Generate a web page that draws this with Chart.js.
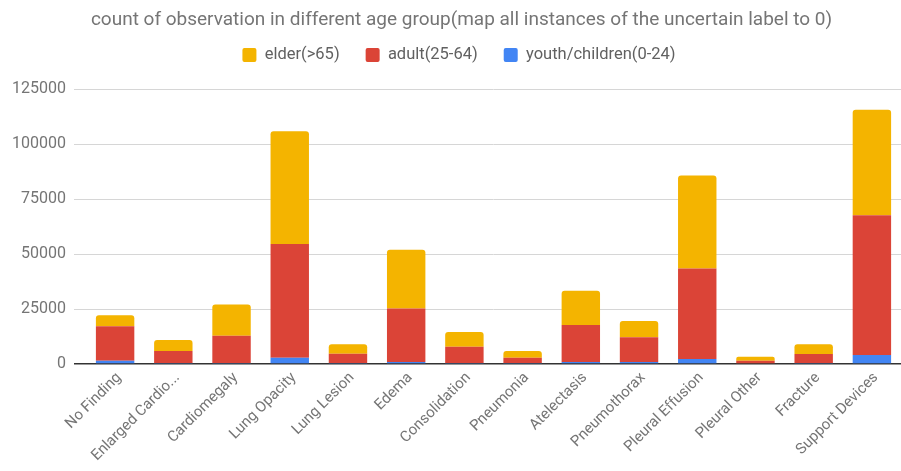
<!DOCTYPE html>
<html>
<head>
<meta charset="utf-8">
<script src="https://cdn.jsdelivr.net/npm/chart.js@4.4.1/dist/chart.umd.min.js"></script>
<style>
  html, body { margin: 0; padding: 0; background: #ffffff; }
  #wrap { width: 901px; height: 471px; }
</style>
</head>
<body>
<div id="wrap"><canvas id="chart" width="901" height="471"></canvas></div>
<script>
// Findings on the x axis
const categories = [
  'No Finding', 'Enlarged Cardio...', 'Cardiomegaly', 'Lung Opacity', 'Lung Lesion',
  'Edema', 'Consolidation', 'Pneumonia', 'Atelectasis', 'Pneumothorax',
  'Pleural Effusion', 'Pleural Other', 'Fracture', 'Support Devices'
];

// Observation counts per age group (stacked bottom to top: youth, adult, elder)
const youthChildren = [1500, 400, 400, 2850, 400, 900, 500, 400, 900, 900, 2300, 300, 400, 4100];
const adult = [15700, 5500, 12400, 51750, 4300, 24300, 7300, 2450, 16900, 11300, 41100, 1200, 4200, 63600];
const elder = [5000, 5000, 14300, 51300, 4300, 26800, 6800, 3050, 15500, 7400, 42400, 1800, 4400, 48000];

// Value axis ticks
const yTicks = [0, 25000, 50000, 75000, 100000, 125000];

const seriesNames = ['youth/children(0-24)', 'adult(25-64)', 'elder(>65)'];
const seriesColors = ['#4285F4', '#DB4437', '#F4B400'];

const FONT = 'Roboto, "Noto Sans", Arial, sans-serif';
const GREY = '#757575';

// Extra room under the legend row, and title/legend centred over the plot area
const headerLayout = {
  id: 'headerLayout',
  beforeLayout(chart) {
    const legend = chart.legend;
    if (!legend || legend._gapWrapped) return;
    const fit = legend.fit;
    legend.fit = function () {
      fit.call(this);
      this.height += 16;
    };
    legend._gapWrapped = true;
  },
  afterLayout(chart) {
    if (chart.titleBlock) chart.titleBlock.left += 22;
    if (chart.legend) chart.legend.left += 17;
  }
};

new Chart(document.getElementById('chart'), {
  type: 'bar',
  data: {
    labels: categories,
    datasets: [
      { label: seriesNames[0], data: youthChildren, backgroundColor: seriesColors[0], borderRadius: 0 },
      { label: seriesNames[1], data: adult, backgroundColor: seriesColors[1], borderRadius: 0 },
      { label: seriesNames[2], data: elder, backgroundColor: seriesColors[2],
        borderRadius: { topLeft: 3, topRight: 3, bottomLeft: 0, bottomRight: 0 }, borderSkipped: 'start' }
    ]
  },
  plugins: [headerLayout],
  options: {
    responsive: false,
    devicePixelRatio: 1,
    animation: false,
    layout: { padding: { left: 0, right: 0, top: 0, bottom: 0 } },
    datasets: { bar: { categoryPercentage: 0.66, barPercentage: 1 } },
    plugins: {
      title: {
        display: true,
        text: 'count of observation in different age group(map all instances of the uncertain label to 0)',
        color: GREY,
        font: { family: FONT, size: 19, weight: 'normal' },
        padding: { top: 9, bottom: -11 }
      },
      legend: {
        display: true,
        reverse: true,
        labels: {
          color: '#616161',
          font: { family: FONT, size: 16.5 },
          boxWidth: 14,
          boxHeight: 14,
          useBorderRadius: true,
          borderRadius: 2,
          padding: 26
        }
      },
      tooltip: { enabled: false }
    },
    scales: {
      x: {
        stacked: true,
        grid: { display: false },
        border: { display: false },
        ticks: {
          color: GREY,
          font: { family: FONT, size: 15 },
          minRotation: 45,
          maxRotation: 45,
          autoSkip: false,
          padding: -3,
          labelOffset: 4
        },
        afterFit: (scale) => { scale.height = 107; }
      },
      y: {
        stacked: true,
        min: 0,
        max: 125000,
        border: { display: false },
        afterBuildTicks: (scale) => { scale.ticks = yTicks.map(v => ({ value: v })); },
        grid: {
          drawTicks: true,
          tickLength: 12,
          color: (ctx) => (ctx.tick && ctx.tick.value === 0 ? '#333333' : '#d6d6d6'),
          tickColor: (ctx) => (ctx.tick && ctx.tick.value === 0 ? '#333333' : '#d6d6d6'),
          lineWidth: (ctx) => (ctx.tick && ctx.tick.value === 0 ? 1.5 : 1)
        },
        ticks: {
          color: GREY,
          font: { family: FONT, size: 16 },
          padding: 8,
          callback: (v) => String(v)
        },
        afterFit: (scale) => { scale.width = 86; }
      }
    }
  }
});
</script>
</body>
</html>
